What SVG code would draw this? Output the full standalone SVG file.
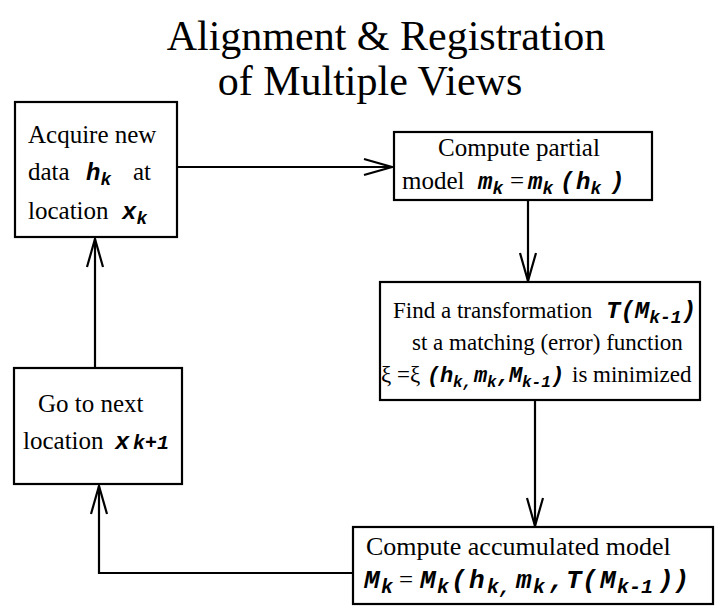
<svg xmlns="http://www.w3.org/2000/svg" width="719" height="607" viewBox="0 0 719 607">
<style>
.box{fill:#fff;stroke:#000;stroke-width:2.2}
.t{font-family:"Liberation Serif","Times New Roman",serif;font-size:25px;fill:#000}
.t3{font-family:"Liberation Serif","Times New Roman",serif;font-size:23px;fill:#000}
.title{font-family:"Liberation Serif","Times New Roman",serif;font-size:42px;fill:#000;text-anchor:middle}
.m{font-family:"Liberation Mono","Courier New",monospace;font-weight:bold;font-style:italic;font-size:24px}
.s{font-family:"Liberation Mono","Courier New",monospace;font-weight:bold;font-style:italic;font-size:18px}
.m2{font-family:"Liberation Mono","Courier New",monospace;font-weight:bold;font-style:italic;font-size:26px}
.s2{font-family:"Liberation Mono","Courier New",monospace;font-weight:bold;font-style:italic;font-size:20px}
.m3{font-family:"Liberation Mono","Courier New",monospace;font-weight:bold;font-style:italic;font-size:22px}
.s3{font-family:"Liberation Mono","Courier New",monospace;font-weight:bold;font-style:italic;font-size:16px}
.c{fill:none;stroke:#000;stroke-width:2.2}
</style>
<defs>
<marker id="ah" markerUnits="userSpaceOnUse" markerWidth="34" markerHeight="22" viewBox="-30 -11 34 22" refX="0" refY="0" orient="auto">
<path d="M-28,-8 L0,0 L-28,8" fill="none" stroke="#000" stroke-width="2.2"/>
</marker>
</defs>
<g id="title">
<text class="title" x="386" y="50">Alignment &amp; Registration</text>
<text class="title" x="370" y="95">of Multiple Views</text>
</g>
<g id="connectors">
<line class="c" x1="177" y1="167" x2="392" y2="167" marker-end="url(#ah)"/>
<line class="c" x1="528" y1="200" x2="528" y2="281" marker-end="url(#ah)"/>
<line class="c" x1="535" y1="400" x2="535" y2="526" marker-end="url(#ah)"/>
<polyline class="c" points="353,573 99,573 99,486" marker-end="url(#ah)"/>
<line class="c" x1="95" y1="368" x2="95" y2="239" marker-end="url(#ah)"/>
</g>
<g id="acquire">
<rect class="box" x="15" y="102" width="162" height="135"/>
<text class="t" x="28" y="143">Acquire new</text>
<text class="t" x="28" y="180">data <tspan class="m" x="86">h</tspan><tspan class="s" dy="5">k</tspan><tspan dy="-5" x="133">at</tspan></text>
<text class="t" x="28" y="219">location <tspan class="m" x="122">x</tspan><tspan class="s" dy="5">k</tspan></text>
</g>
<g id="partial">
<rect class="box" x="394" y="132" width="258" height="68"/>
<text class="t" x="519" y="156" text-anchor="middle">Compute partial</text>
<text class="t" x="402" y="189">model <tspan class="m" x="478">m</tspan><tspan class="s" dy="5">k</tspan><tspan dy="-5" x="510">=</tspan><tspan class="m" x="528">m</tspan><tspan class="s" dy="5">k</tspan><tspan class="m" dy="-5" x="560">(</tspan><tspan class="m" x="576">h</tspan><tspan class="s" dy="5">k</tspan><tspan class="m" dy="-5" x="610">)</tspan></text>
</g>
<g id="transform">
<rect class="box" x="380" y="282" width="320" height="118"/>
<text class="t3" x="393" y="318">Find a transformation <tspan class="m" x="606">T(M</tspan><tspan class="s" dy="5">k-1</tspan><tspan class="m" dy="-5">)</tspan></text>
<text class="t3" x="412" y="350">st a matching (error) function</text>
<text class="t3" x="381" y="382">ξ =ξ <tspan class="m3" x="427">(</tspan><tspan class="m3" x="440">h</tspan><tspan class="s3" dy="5" x="453">k,</tspan><tspan class="m3" dy="-5" x="474">m</tspan><tspan class="s3" dy="5" x="487">k</tspan><tspan class="m3" dy="-5" x="497">,</tspan><tspan class="m3" x="509">M</tspan><tspan class="s3" dy="5" x="522">k-1</tspan><tspan class="m3" dy="-5" x="551">)</tspan><tspan x="572">is minimized</tspan></text>
</g>
<g id="next">
<rect class="box" x="14" y="368" width="168" height="116"/>
<text class="t" x="38" y="412">Go to next</text>
<text class="t" x="23" y="449">location <tspan class="m" x="115">x</tspan><tspan class="s2" x="133">k+1</tspan></text>
</g>
<g id="accumulated">
<rect class="box" x="353" y="527" width="360" height="77"/>
<text class="t" x="366" y="555" style="font-size:26px">Compute accumulated model</text>
<text class="t" x="364" y="588"><tspan class="m2">M</tspan><tspan class="s2" dy="5" x="381">k</tspan><tspan dy="-5" x="399">=</tspan><tspan class="m2" x="420">M</tspan><tspan class="s2" dy="5" x="437">k</tspan><tspan class="m2" dy="-5" x="451">(</tspan><tspan class="m2" x="469">h</tspan><tspan class="s2" dy="5" x="487">k,</tspan><tspan class="m2" dy="-5" x="516">m</tspan><tspan class="s2" dy="5" x="533">k</tspan><tspan class="m2" dy="-5" x="549">,</tspan><tspan class="m2" x="566">T</tspan><tspan class="m2" x="582">(</tspan><tspan class="m2" x="600">M</tspan><tspan class="s2" dy="5" x="617">k-1</tspan><tspan class="m2" dy="-5" x="658">))</tspan></text>
</g>
</svg>
